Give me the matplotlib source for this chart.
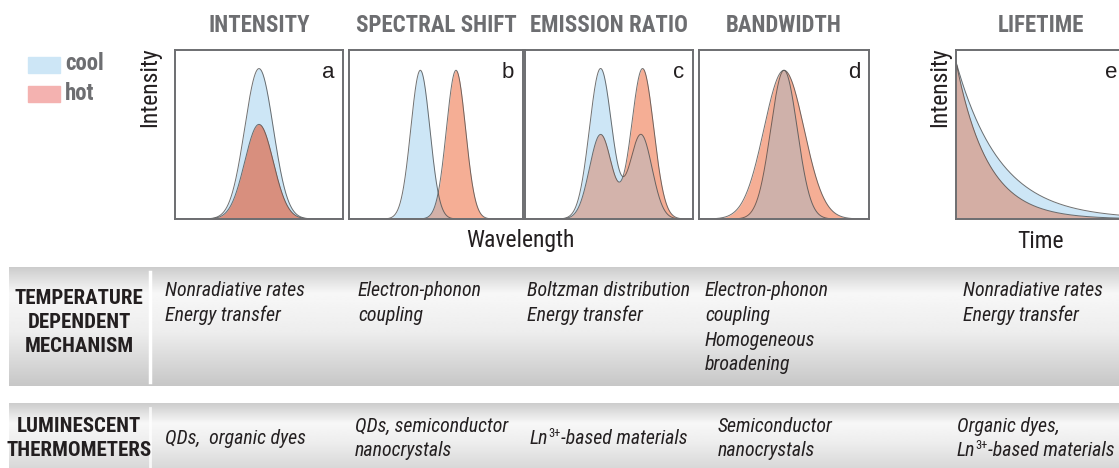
import os
import numpy as np
import matplotlib
matplotlib.use("Agg")
import matplotlib.pyplot as plt
from matplotlib import font_manager
from matplotlib.font_manager import FontProperties

W, H = 1119, 468

# ---- data ----
headers = ['INTENSITY', 'SPECTRAL SHIFT', 'EMISSION RATIO', 'BANDWIDTH', 'LIFETIME']
letters = ['a', 'b', 'c', 'd', 'e']

# gaussian peaks per panel: (centre, height, width) in panel units
cool_a = [(0.50, 0.89, 0.085)]
hot_a = [(0.50, 0.56, 0.085)]
cool_b = [(0.41, 0.88, 0.055)]
hot_b = [(0.615, 0.88, 0.055)]
cool_c = [(0.45, 0.89, 0.066), (0.69, 0.50, 0.066)]
hot_c = [(0.45, 0.50, 0.066), (0.70, 0.89, 0.066)]
cool_d = [(0.50, 0.88, 0.078)]
hot_d = [(0.50, 0.88, 0.118)]
# lifetime decays: (start, tau)
cool_e = (0.93, 0.26)
hot_e = (0.93, 0.185)

mechanism = [
    ['Nonradiative rates', 'Energy transfer'],
    ['Electron-phonon', 'coupling'],
    ['Boltzman distribution', 'Energy transfer'],
    ['Electron-phonon', 'coupling', 'Homogeneous', 'broadening'],
    ['Nonradiative rates', 'Energy transfer'],
]
# 'LN3' marks the Ln3+ text
thermometers = [
    ['QDs,  organic dyes'],
    ['QDs, semiconductor', 'nanocrystals'],
    ['LN3-based materials'],
    ['Semiconductor', 'nanocrystals'],
    ['Organic dyes,', 'LN3-based materials'],
]

# ---- layout (pixels) ----
panel_x = [(175, 343), (349, 523), (525, 693), (699, 869), (956, 1126)]
panel_top, panel_bot = 50, 219
mech_x = [165, 358, 527, 705, 963]
therm_x = [165, 355, 530, 718, 957]

COOL = '#cde6f6'
HOT = '#f5ae95'
EDGE = '#4d4d4d'
FRAME = '#6d6e71'
GRAY_TXT = '#6d6e71'
TXT = '#231f20'
overlap_col = ['#d88f7e', '#d3b1a8', '#d3b3ab', '#cfb1aa', '#d4aea4']


# ---- fonts: look for an installed condensed face ----
def pick_condensed():
    groups = {}
    for f in font_manager.fontManager.ttflist:
        base = os.path.basename(f.fname).lower()
        nm = f.name
        cond = ('condensed' in base or 'narrow' in base or 'Condensed' in nm
                or 'Narrow' in nm or f.stretch in ('condensed', 'semi-condensed'))
        if not cond or 'extra' in base or 'ultra' in base:
            continue
        semi = 'semi' in base or 'semi' in nm.lower() or f.stretch == 'semi-condensed'
        w = f.weight
        if isinstance(w, str):
            w = font_manager.weight_dict.get(w, 400)
        ital = f.style != 'normal'
        if w == 400:
            kind = 'it' if ital else 'rg'
        elif w == 700 and not ital:
            kind = 'bd'
        else:
            continue
        key = (semi, nm)
        groups.setdefault(key, {})[kind] = f.fname
    good = [k for k, v in groups.items() if len(v) == 3]
    if not good:
        return None
    pref = ['Roboto', 'Open Sans', 'Noto Sans', 'Liberation', 'Lato', 'DejaVu']

    def rank(k):
        p = [i for i, s in enumerate(pref) if k[1].startswith(s)]
        return (k[0], p[0] if p else 99)
    return groups[sorted(good, key=rank)[0]]


cf = pick_condensed()
if cf:
    FP_RG = FontProperties(fname=cf['rg'])
    FP_BD = FontProperties(fname=cf['bd'])
    FP_IT = FontProperties(fname=cf['it'])
else:
    FP_RG = FontProperties(family='Liberation Sans')
    FP_BD = FontProperties(family='Liberation Sans', weight='bold')
    FP_IT = FontProperties(family='Liberation Sans', style='italic')

fig = plt.figure(figsize=(W / 100, H / 100), dpi=100)
bg = fig.add_axes([0, 0, 1, 1])
bg.axis('off')
bg.set_xlim(0, W)
bg.set_ylim(H, 0)
rend = fig.canvas.get_renderer()


def fitted(fp, sample, target, cap):
    p = fp.copy()
    p.set_size(10)
    t = bg.text(0, 0, sample, fontproperties=p)
    w = t.get_window_extent(rend).width
    t.remove()
    p.set_size(min(cap, 10 * target / w))
    return p


F_HEAD = fitted(FP_BD, 'SPECTRAL SHIFT', 160, 16.5)
F_ROW = fitted(FP_BD, 'TEMPERATURE', 128, 16.5)
F_CELL = fitted(FP_IT, 'Nonradiative rates', 140, 15.5)
F_WORD = fitted(FP_RG, 'Wavelength', 110, 17)
F_LEG = fitted(FP_BD, 'cool', 41, 16.5)
F_SUP = FP_RG.copy()
F_SUP.set_size(F_CELL.get_size() * 0.62)


def band(y0, y1, stops, pos):
    t = np.linspace(0, 1, 300)
    v = np.interp(t, pos, stops)
    img = np.repeat(v[:, None], 2, axis=1)
    bg.imshow(img, cmap='gray', vmin=0, vmax=1, extent=(9, W, y1, y0),
              aspect='auto', interpolation='bilinear', zorder=0)


band(267, 386, [0.80, 0.97, 0.93, 0.78], [0, 0.22, 0.55, 1])
band(403, 470, [0.80, 0.97, 0.93, 0.84], [0, 0.30, 0.60, 1])
bg.plot([150, 150], [272, 382], color='white', lw=2.5, zorder=1)
bg.plot([150, 150], [408, 468], color='white', lw=2, alpha=0.8, zorder=1)
bg.set_xlim(0, W)
bg.set_ylim(H, 0)

# legend
bg.add_patch(plt.Rectangle((28, 57), 32, 16, color=COOL, zorder=2))
bg.add_patch(plt.Rectangle((28, 86), 32, 16, color='#f4b2b0', zorder=2))
bg.text(65, 64, 'cool', fontproperties=F_LEG, color=GRAY_TXT, va='center', ha='left')
bg.text(65, 93, 'hot', fontproperties=F_LEG, color=GRAY_TXT, va='center', ha='left')

# headers
for (l, r), h in zip(panel_x, headers):
    bg.text((l + r) / 2, 25, h, fontproperties=F_HEAD, color=GRAY_TXT,
            ha='center', va='center')

# axis words
bg.text(150, 47, 'Intensity', fontproperties=F_WORD, color=TXT, rotation=90,
        ha='center', va='top')
bg.text(940, 47, 'Intensity', fontproperties=F_WORD, color=TXT, rotation=90,
        ha='center', va='top')
bg.text(520, 241, 'Wavelength', fontproperties=F_WORD, color=TXT,
        ha='center', va='center')
bg.text(1041, 241, 'Time', fontproperties=F_WORD, color=TXT,
        ha='center', va='center')

# row labels
for i, s in enumerate(['TEMPERATURE', 'DEPENDENT', 'MECHANISM']):
    bg.text(79, 298 + 24 * i, s, fontproperties=F_ROW, color=TXT,
            ha='center', va='center')
for i, s in enumerate(['LUMINESCENT', 'THERMOMETERS']):
    bg.text(79, 426 + 24 * i, s, fontproperties=F_ROW, color=TXT,
            ha='center', va='center')


def cell(x, y, s):
    if not s.startswith('LN3'):
        bg.text(x, y, s, fontproperties=F_CELL, color=TXT, ha='left', va='center')
        return
    t1 = bg.text(x, y, 'Ln', fontproperties=F_CELL, color=TXT, ha='left', va='center')
    t2 = bg.annotate('3+', xy=(1.0, 0.40), xycoords=t1, fontproperties=F_SUP,
                     color=TXT, ha='left', va='bottom')
    bg.annotate(s[3:], xy=(1, 0), xycoords=(t2, t1), fontproperties=F_CELL,
                color=TXT, ha='left', va='bottom')


for x, lines in zip(mech_x, mechanism):
    for i, s in enumerate(lines):
        cell(x, 291 + 24.5 * i, s)
for x, lines in zip(therm_x, thermometers):
    y0 = 438 - 12 * (len(lines) - 1)
    for i, s in enumerate(lines):
        cell(x, y0 + 24 * i, s)


def gauss(x, peaks):
    y = np.zeros_like(x)
    for c, h, w in peaks:
        y += h * np.exp(-(x - c) ** 2 / (2 * w ** 2))
    return y


x = np.linspace(0, 1, 600)
curves = [
    (gauss(x, cool_a), gauss(x, hot_a)),
    (gauss(x, cool_b), gauss(x, hot_b)),
    (gauss(x, cool_c), gauss(x, hot_c)),
    (gauss(x, cool_d), gauss(x, hot_d)),
    (cool_e[0] * np.exp(-x / cool_e[1]), hot_e[0] * np.exp(-x / hot_e[1])),
]

for k, ((l, r), (yc, yh)) in enumerate(zip(panel_x, curves)):
    ax = fig.add_axes([l / W, 1 - panel_bot / H, (r - l) / W,
                       (panel_bot - panel_top) / H])
    ax.fill_between(x, 0, yc, color=COOL, lw=0)
    ax.fill_between(x, 0, yh, color=HOT, lw=0)
    ax.fill_between(x, 0, np.minimum(yc, yh), color=overlap_col[k], lw=0)
    ax.plot(x, yc, color=EDGE, lw=0.7, alpha=0.8)
    ax.plot(x, yh, color=EDGE, lw=0.7, alpha=0.8)
    ax.set_xlim(0, 1)
    ax.set_ylim(0, 1)
    ax.set_xticks([])
    ax.set_yticks([])
    for sp in ax.spines.values():
        sp.set_color(FRAME)
        sp.set_linewidth(1.4)
    ax.text(0.95, 0.93, letters[k], transform=ax.transAxes, fontsize=16,
            family='Liberation Sans', color=TXT, ha='right', va='top')

fig.savefig('out.png', dpi=100)
